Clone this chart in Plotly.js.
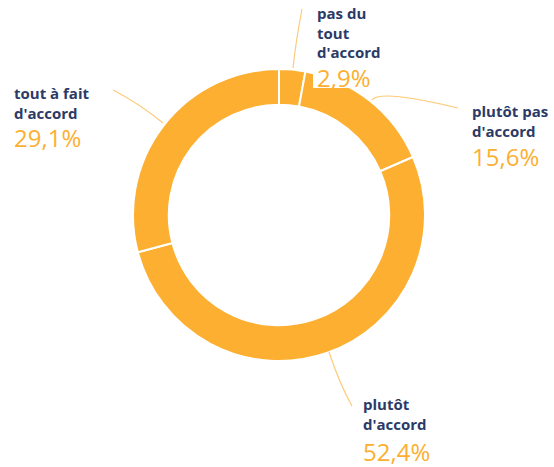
<!DOCTYPE html>
<html><head><meta charset="utf-8">
<script src="https://cdn.plot.ly/plotly-3.0.1.min.js"></script>
<style>html,body{margin:0;padding:0;background:#fff}#chart{width:554px;height:467px}</style>
</head><body><div id="chart"></div>
<script>
const categories = ["pas du tout d'accord", "plutôt pas d'accord", "plutôt d'accord", "tout à fait d'accord"];
const labelLines = ["pas du<br>tout<br>d'accord", "plutôt pas<br>d'accord", "plutôt<br>d'accord", "tout à fait<br>d'accord"];
const values = [2.9, 15.6, 52.4, 29.1];
const pctLabels = ["2,9%", "15,6%", "52,4%", "29,1%"];

const W = 554, H = 467;
const ORANGE = '#FCAF30', NAVY = '#2B3A66';
const px = x => x / W, py = y => 1 - y / H;

// label placement (pixel positions: left x, label-block center y, percent center y)
const place = [
  {x: 316, ly: 33, pyc: 77},
  {x: 471, ly: 121, pyc: 156},
  {x: 362, ly: 414, pyc: 451},
  {x: 13, ly: 103, pyc: 137}
];
// leader lines
const leaders = [
  [[293, 68], [296, 40], [302, 9]],
  [[372, 100], [380, 89], [458, 108]],
  [[329, 352], [340, 385], [352, 406]],
  [[163, 123], [140, 104], [113, 90]]
];

const annotations = [];
categories.forEach((c, i) => {
  annotations.push({xref: 'paper', yref: 'paper', x: px(place[i].x), y: py(place[i].ly), xanchor: 'left', yanchor: 'middle', align: 'left', showarrow: false, borderpad: 0, text: '<b>' + labelLines[i] + '</b>', font: {family: 'Open Sans', size: 15, color: NAVY}});
  annotations.push({xref: 'paper', yref: 'paper', x: px(place[i].x), y: py(place[i].pyc), xanchor: 'left', yanchor: 'middle', align: 'left', showarrow: false, borderpad: 0, text: pctLabels[i], font: {family: 'Open Sans', size: 24, color: ORANGE}});
});
const shapes = leaders.map(p => ({
  type: 'path', xref: 'paper', yref: 'paper',
  path: 'M' + px(p[0][0]) + ',' + py(p[0][1]) + ' Q' + px(p[1][0]) + ',' + py(p[1][1]) + ' ' + px(p[2][0]) + ',' + py(p[2][1]),
  line: {color: '#FDCB7A', width: 1.2}
}));
// white backing behind the "2,9%" label, which overlaps the ring
shapes.push({type: 'rect', xref: 'paper', yref: 'paper', layer: 'above',
  x0: px(313), x1: px(372), y0: py(88), y1: py(60),
  fillcolor: '#ffffff', line: {width: 0}});

const trace = {
  type: 'pie', labels: categories, values: values, sort: false, direction: 'clockwise', rotation: 0,
  hole: 0.755, textinfo: 'none', hoverinfo: 'label+percent',
  marker: {colors: [ORANGE, ORANGE, ORANGE, ORANGE], line: {color: '#ffffff', width: 2}},
  domain: {x: [133 / W, 425 / W], y: [1 - 361 / H, 1 - 69 / H]},
  showlegend: false
};

Plotly.newPlot('chart', [trace], {
  width: W, height: H, margin: {l: 0, r: 0, t: 0, b: 0},
  paper_bgcolor: '#fff', plot_bgcolor: '#fff',
  annotations: annotations, shapes: shapes, showlegend: false
}, {displayModeBar: false, staticPlot: true});
</script></body></html>
